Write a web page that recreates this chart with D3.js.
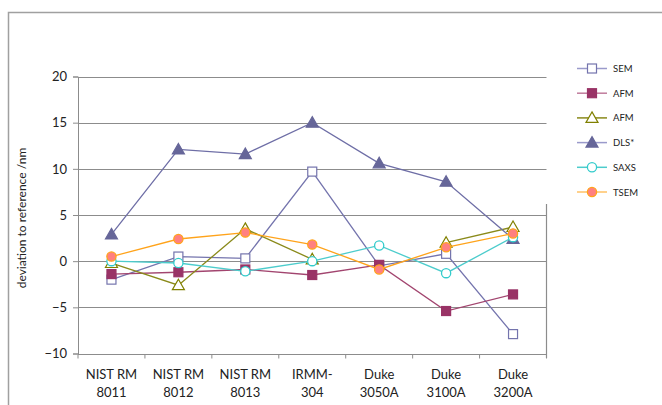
<!DOCTYPE html>
<html>
<head>
<meta charset="utf-8">
<script src="https://cdn.jsdelivr.net/npm/d3@7"></script>
<style>
  html, body { margin: 0; padding: 0; background: #fff; }
  svg { display: block; font-family: Lato, "Open Sans", sans-serif; }
</style>
</head>
<body>
<svg id="chart" width="662" height="405"></svg>
<script>
// Sample names (two-line labels on the category axis)
const categories = [
  ["NIST RM", "8011"], ["NIST RM", "8012"], ["NIST RM", "8013"],
  ["IRMM-", "304"], ["Duke", "3050A"], ["Duke", "3100A"], ["Duke", "3200A"]
];
const yTicks = [-10, -5, 0, 5, 10, 15, 20];

// Deviation to reference size (nm) per method
const semValues   = [-2.0, 0.5, 0.3, 9.7, -0.5, 0.8, -7.9];
const afmValues   = [-1.4, -1.2, -0.9, -1.5, -0.4, -5.4, -3.6];
const afm2Values  = [-0.2, -2.6, 3.5, 0.2, null, 2.0, 3.7];
const dlsValues   = [2.9, 12.1, 11.6, 15.0, 10.6, 8.6, 2.4];
const saxsValues  = [0.0, -0.2, -1.1, 0.0, 1.7, -1.3, 2.6];
const tsemValues  = [0.5, 2.4, 3.1, 1.8, -0.9, 1.5, 3.0];

const seriesNames = ["SEM", "AFM", "AFM", "DLS*", "SAXS", "TSEM"];

const series = [
  { name: seriesNames[0], values: semValues,  line: "#7474ad", legendLine: "#9a9acb", marker: "square",   fill: "#fff",    stroke: "#7474ad" },
  { name: seriesNames[1], values: afmValues,  line: "#a2456f", legendLine: "#c07c9c", marker: "square",   fill: "#993366", stroke: "#993366" },
  { name: seriesNames[2], values: afm2Values, line: "#8a8a1a", legendLine: "#8a8a1a", marker: "triangle", fill: "#fff",    stroke: "#808000" },
  { name: seriesNames[3], values: dlsValues,  line: "#6e6ea6", legendLine: "#9a9acb", marker: "triangle", fill: "#666699", stroke: "#666699" },
  { name: seriesNames[4], values: saxsValues, line: "#4ccccc", legendLine: "#4ccccc", marker: "circle",   fill: "#fff",    stroke: "#33cccc" },
  { name: seriesNames[5], values: tsemValues, line: "#ffa31a", legendLine: "#ffc266", marker: "circle",   fill: "#ff8080", stroke: "#ffa31a" }
];

const svg = d3.select("#chart");

// Outer chart frame
svg.append("path")
  .attr("d", "M8.5,405 V12.5 H662")
  .attr("fill", "none").attr("stroke", "#a0a0a0").attr("stroke-width", 1.5);

const plot = { left: 78, right: 546.5, top: 76.5, bottom: 353.5 };

const x = d3.scaleBand()
  .domain(d3.range(categories.length))
  .range([plot.left, plot.right])
  .paddingInner(0).paddingOuter(0);

const y = d3.scaleLinear().domain([-10, 20]).range([plot.bottom, plot.top]);

// Horizontal gridlines
svg.append("g")
  .selectAll("line")
  .data(yTicks.filter(v => v !== -10))
  .join("line")
  .attr("x1", plot.left).attr("x2", plot.right)
  .attr("y1", d => Math.round(y(d)) + 0.5).attr("y2", d => Math.round(y(d)) + 0.5)
  .attr("stroke", "#8c8c8c").attr("stroke-width", 1);

// Partial right border of plot area
svg.append("line")
  .attr("x1", plot.right).attr("x2", plot.right)
  .attr("y1", 204).attr("y2", 358)
  .attr("stroke", "#8c8c8c").attr("stroke-width", 1.2);

// Y axis
const yAxis = d3.axisLeft(y).tickValues(yTicks).tickSize(5).tickPadding(6);
const gy = svg.append("g").attr("transform", `translate(${plot.left},0)`).call(yAxis);
gy.select(".domain").attr("stroke", "#8c8c8c");
gy.selectAll(".tick line").attr("stroke", "#8c8c8c");
gy.selectAll(".tick text").attr("font-size", 13).attr("fill", "#222")
  .attr("font-family", "Lato, 'Open Sans', sans-serif");

// X axis (ticks at band boundaries)
const gx = svg.append("g").attr("transform", `translate(0,${Math.round(plot.bottom) + 0.5})`);
gx.append("line").attr("x1", plot.left).attr("x2", plot.right)
  .attr("stroke", "#8c8c8c");
gx.selectAll("line.tk")
  .data(d3.range(categories.length + 1))
  .join("line").attr("class", "tk")
  .attr("x1", i => i < categories.length ? x(i) : plot.right)
  .attr("x2", i => i < categories.length ? x(i) : plot.right)
  .attr("y1", 0).attr("y2", 4)
  .attr("stroke", "#8c8c8c");
const labels = gx.selectAll("text")
  .data(categories)
  .join("text")
  .attr("text-anchor", "middle")
  .attr("font-size", 13).attr("fill", "#222")
  .attr("transform", (d, i) => `translate(${x(i) + x.bandwidth() / 2},0)`);
labels.append("tspan").attr("x", 0).attr("y", 24).text(d => d[0]);
labels.append("tspan").attr("x", 0).attr("y", 42).text(d => d[1]);

// Y axis title
svg.append("text")
  .attr("transform", `translate(26,${218}) rotate(-90)`)
  .attr("text-anchor", "middle")
  .attr("font-size", 12).attr("fill", "#222")
  .text("deviation to reference /nm");

const cx = i => x(i) + x.bandwidth() / 2;

function drawMarker(g, s, px, py) {
  if (s.marker === "square") {
    g.append("rect")
      .attr("x", px - 4.5).attr("y", py - 4.5).attr("width", 9).attr("height", 9)
      .attr("fill", s.fill).attr("stroke", s.stroke).attr("stroke-width", 1.2);
  } else if (s.marker === "triangle") {
    const h = 10, w = 12;
    g.append("path")
      .attr("d", `M${px},${py - h * 0.6} L${px + w / 2},${py + h * 0.45} L${px - w / 2},${py + h * 0.45} Z`)
      .attr("fill", s.fill).attr("stroke", s.stroke).attr("stroke-width", 1.2);
  } else {
    g.append("circle")
      .attr("cx", px).attr("cy", py).attr("r", 4.6)
      .attr("fill", s.fill).attr("stroke", s.stroke).attr("stroke-width", 1.3);
  }
}

const line = d3.line()
  .defined(d => d != null)
  .x((d, i) => cx(i))
  .y(d => y(d));

series.forEach(s => {
  const g = svg.append("g");
  g.append("path")
    .attr("d", line(s.values))
    .attr("fill", "none").attr("stroke", s.line).attr("stroke-width", 1.3);
  s.values.forEach((v, i) => {
    if (v != null) drawMarker(g, s, cx(i), y(v));
  });
});

// Legend
const legend = svg.append("g");
series.forEach((s, k) => {
  const ly = 68.5 + k * 24.7;
  const g = legend.append("g");
  g.append("line").attr("x1", 577).attr("x2", 607).attr("y1", ly).attr("y2", ly)
    .attr("stroke", s.legendLine).attr("stroke-width", 1.5);
  drawMarker(g, s, 592, ly);
  g.append("text").attr("x", 613).attr("y", ly + 3.5)
    .attr("font-size", 9.5).attr("fill", "#222").text(s.name);
});
</script>
</body>
</html>
